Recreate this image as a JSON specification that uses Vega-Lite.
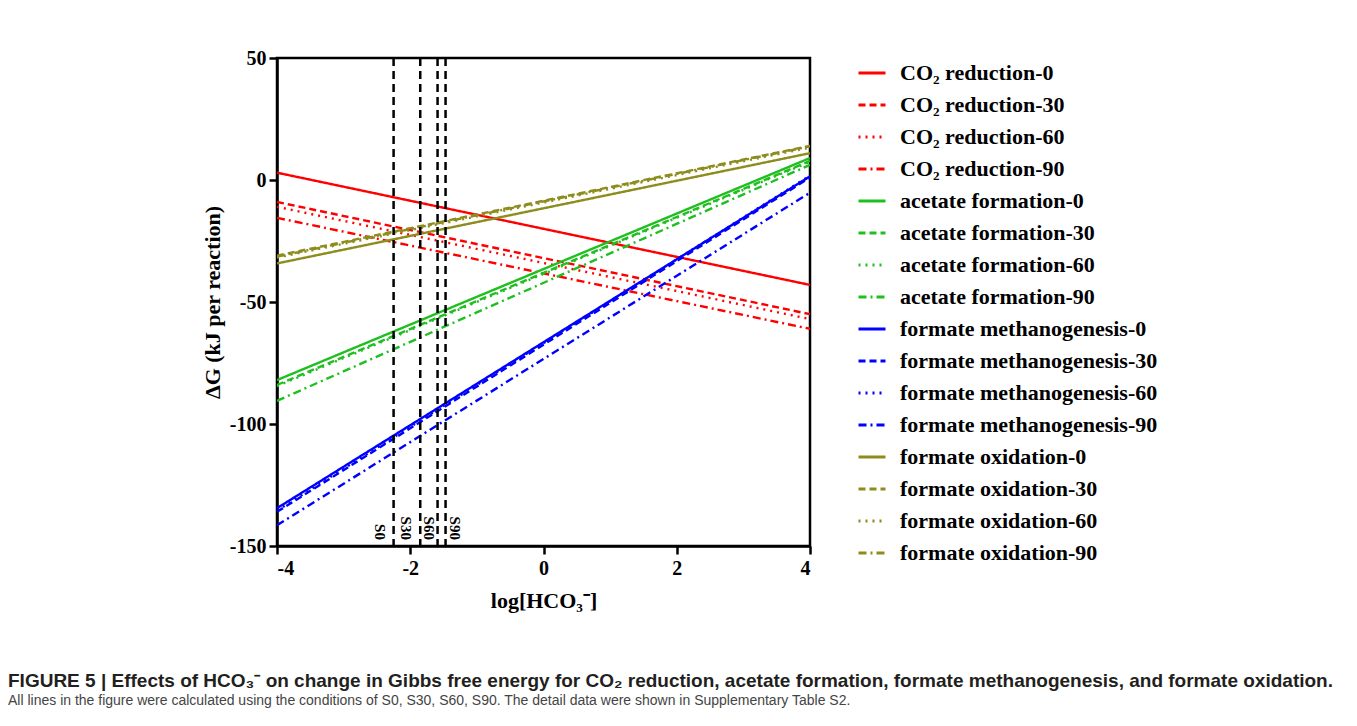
{
  "$schema": "https://vega.github.io/schema/vega-lite/v6.json",
  "autosize": {"type": "none"},
  "padding": {"left": 277, "top": 58, "right": 547, "bottom": 180},
  "width": 533,
  "height": 488,
  "background": "white",
  "title": {
    "text": "FIGURE 5 | Effects of HCO₃⁻ on change in Gibbs free energy for CO₂ reduction, acetate formation, formate methanogenesis, and formate oxidation.",
    "subtitle": "All lines in the figure were calculated using the conditions of S0, S30, S60, S90. The detail data were shown in Supplementary Table S2.",
    "orient": "bottom",
    "anchor": "start",
    "frame": "group",
    "dx": -269,
    "offset": 61,
    "font": "Liberation Sans",
    "fontSize": 19,
    "fontWeight": "bold",
    "color": "#231f20",
    "subtitleFont": "Liberation Sans",
    "subtitleFontSize": 14,
    "subtitleColor": "#444444",
    "subtitlePadding": 3
  },
  "datasets": {
    "lines": [
      {"series": "CO₂ reduction-0", "logHCO3": -4, "dG": 3},
      {"series": "CO₂ reduction-0", "logHCO3": 4, "dG": -43},
      {"series": "CO₂ reduction-30", "logHCO3": -4, "dG": -9},
      {"series": "CO₂ reduction-30", "logHCO3": 4, "dG": -55},
      {"series": "CO₂ reduction-60", "logHCO3": -4, "dG": -11},
      {"series": "CO₂ reduction-60", "logHCO3": 4, "dG": -57},
      {"series": "CO₂ reduction-90", "logHCO3": -4, "dG": -15.5},
      {"series": "CO₂ reduction-90", "logHCO3": 4, "dG": -61},
      {"series": "acetate formation-0", "logHCO3": -4, "dG": -82},
      {"series": "acetate formation-0", "logHCO3": 4, "dG": 9},
      {"series": "acetate formation-30", "logHCO3": -4, "dG": -84},
      {"series": "acetate formation-30", "logHCO3": 4, "dG": 7.8},
      {"series": "acetate formation-60", "logHCO3": -4, "dG": -84.5},
      {"series": "acetate formation-60", "logHCO3": 4, "dG": 7.5},
      {"series": "acetate formation-90", "logHCO3": -4, "dG": -90.5},
      {"series": "acetate formation-90", "logHCO3": 4, "dG": 6.2},
      {"series": "formate methanogenesis-0", "logHCO3": -4, "dG": -134.5},
      {"series": "formate methanogenesis-0", "logHCO3": 4, "dG": 1.5},
      {"series": "formate methanogenesis-30", "logHCO3": -4, "dG": -136},
      {"series": "formate methanogenesis-30", "logHCO3": 4, "dG": 1},
      {"series": "formate methanogenesis-60", "logHCO3": -4, "dG": -135.5},
      {"series": "formate methanogenesis-60", "logHCO3": 4, "dG": 1.8},
      {"series": "formate methanogenesis-90", "logHCO3": -4, "dG": -141.5},
      {"series": "formate methanogenesis-90", "logHCO3": 4, "dG": -5.2},
      {"series": "formate oxidation-0", "logHCO3": -4, "dG": -34.2},
      {"series": "formate oxidation-0", "logHCO3": 4, "dG": 11},
      {"series": "formate oxidation-30", "logHCO3": -4, "dG": -31},
      {"series": "formate oxidation-30", "logHCO3": 4, "dG": 14},
      {"series": "formate oxidation-60", "logHCO3": -4, "dG": -31.8},
      {"series": "formate oxidation-60", "logHCO3": 4, "dG": 13.3},
      {"series": "formate oxidation-90", "logHCO3": -4, "dG": -31.4},
      {"series": "formate oxidation-90", "logHCO3": 4, "dG": 13.8}
    ],
    "samples": [
      {"sample": "S0", "logHCO3": -2.25},
      {"sample": "S30", "logHCO3": -1.85},
      {"sample": "S60", "logHCO3": -1.59},
      {"sample": "S90", "logHCO3": -1.47}
    ]
  },
  "config": {
    "view": {"stroke": "black", "strokeWidth": 2.5},
    "axis": {
      "grid": false,
      "domainColor": "black",
      "domainWidth": 2.5,
      "tickColor": "black",
      "tickWidth": 2.5,
      "tickSize": 8,
      "labelFont": "Liberation Serif",
      "labelFontWeight": "bold",
      "labelFontSize": 20,
      "labelColor": "black",
      "titleFont": "Liberation Serif",
      "titleFontWeight": "bold",
      "titleFontSize": 22,
      "titleColor": "black"
    },
    "legend": {
      "title": null,
      "orient": "right",
      "offset": 47,
      "symbolType": "stroke",
      "symbolSize": 729,
      "symbolStrokeWidth": 3,
      "labelFont": "Liberation Serif",
      "labelFontWeight": "bold",
      "labelFontSize": 22,
      "labelColor": "black",
      "labelOffset": 13,
      "labelLimit": 400,
      "rowPadding": 6
    }
  },
  "layer": [
    {
      "data": {"name": "lines"},
      "mark": {"type": "line", "strokeWidth": 2.4, "clip": true},
      "encoding": {
        "x": {
          "field": "logHCO3", "type": "quantitative",
          "scale": {"domain": [-4, 4], "nice": false, "zero": false},
          "axis": {"values": [-4, -2, 0, 2, 4], "labelExpr": "datum.value + ''", "title": "log[HCO₃⁻]", "labelPadding": 4, "titlePadding": 12}
        },
        "y": {
          "field": "dG", "type": "quantitative",
          "scale": {"domain": [-150, 50], "nice": false, "zero": false},
          "axis": {"values": [-150, -100, -50, 0, 50], "labelExpr": "datum.value + ''", "title": "ΔG (kJ per reaction)", "labelPadding": 3, "titlePadding": 5}
        },
        "color": {
          "field": "series", "type": "nominal",
          "scale": {
            "domain": ["CO₂ reduction-0", "CO₂ reduction-30", "CO₂ reduction-60", "CO₂ reduction-90", "acetate formation-0", "acetate formation-30", "acetate formation-60", "acetate formation-90", "formate methanogenesis-0", "formate methanogenesis-30", "formate methanogenesis-60", "formate methanogenesis-90", "formate oxidation-0", "formate oxidation-30", "formate oxidation-60", "formate oxidation-90"],
            "range": ["#FF0000", "#FF0000", "#FF0000", "#FF0000", "#1FBF1F", "#1FBF1F", "#1FBF1F", "#1FBF1F", "#0000FF", "#0000FF", "#0000FF", "#0000FF", "#8E8C1C", "#8E8C1C", "#8E8C1C", "#8E8C1C"]
          },
          "legend": {"title": null}
        },
        "strokeDash": {
          "field": "series", "type": "nominal",
          "scale": {
            "domain": ["CO₂ reduction-0", "CO₂ reduction-30", "CO₂ reduction-60", "CO₂ reduction-90", "acetate formation-0", "acetate formation-30", "acetate formation-60", "acetate formation-90", "formate methanogenesis-0", "formate methanogenesis-30", "formate methanogenesis-60", "formate methanogenesis-90", "formate oxidation-0", "formate oxidation-30", "formate oxidation-60", "formate oxidation-90"],
            "range": [[1, 0], [7, 4], [2, 5], [8, 4, 2, 4], [1, 0], [7, 4], [2, 5], [8, 4, 2, 4], [1, 0], [7, 4], [2, 5], [8, 4, 2, 4], [1, 0], [7, 4], [2, 5], [8, 4, 2, 4]]
          },
          "legend": {"title": null}
        }
      }
    },
    {
      "mark": {"type": "rule", "color": "black", "strokeWidth": 2.5},
      "encoding": {"y": {"datum": 0, "type": "quantitative"}}
    },
    {
      "data": {"name": "samples"},
      "mark": {"type": "rule", "color": "black", "strokeWidth": 2.5, "strokeDash": [8, 5]},
      "encoding": {"x": {"field": "logHCO3", "type": "quantitative"}}
    },
    {
      "data": {"name": "samples"},
      "transform": [{"filter": "datum.sample === 'S0' || datum.sample === 'S30'"}],
      "mark": {"type": "text", "angle": 90, "align": "right", "baseline": "middle", "dy": 14, "font": "Liberation Serif", "fontWeight": "bold", "fontSize": 15, "color": "black"},
      "encoding": {
        "x": {"field": "logHCO3", "type": "quantitative"},
        "y": {"datum": -147.5, "type": "quantitative"},
        "text": {"field": "sample"}
      }
    },
    {
      "data": {"name": "samples"},
      "transform": [{"filter": "datum.sample === 'S60'"}],
      "mark": {"type": "text", "angle": 90, "align": "right", "baseline": "middle", "dy": 9, "font": "Liberation Serif", "fontWeight": "bold", "fontSize": 15, "color": "black"},
      "encoding": {
        "x": {"field": "logHCO3", "type": "quantitative"},
        "y": {"datum": -147.5, "type": "quantitative"},
        "text": {"field": "sample"}
      }
    },
    {
      "data": {"name": "samples"},
      "transform": [{"filter": "datum.sample === 'S90'"}],
      "mark": {"type": "text", "angle": 90, "align": "right", "baseline": "middle", "dy": -9, "font": "Liberation Serif", "fontWeight": "bold", "fontSize": 15, "color": "black"},
      "encoding": {
        "x": {"field": "logHCO3", "type": "quantitative"},
        "y": {"datum": -147.5, "type": "quantitative"},
        "text": {"field": "sample"}
      }
    }
  ]
}
